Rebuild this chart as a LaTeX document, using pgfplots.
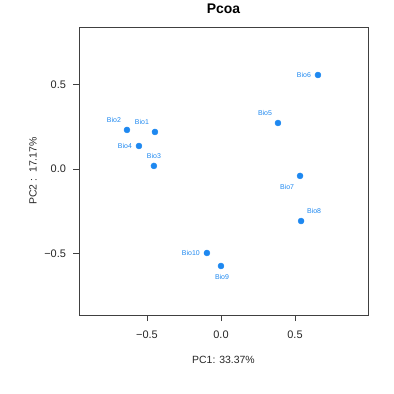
\documentclass[border=0pt]{standalone}
\usepackage{fontspec}
\setmainfont{Liberation Sans}
\usepackage{pgfplots}
\pgfplotsset{compat=1.18}
\definecolor{pblue}{HTML}{1E88F0}
\begin{document}
\begin{tikzpicture}
\path[use as bounding box] (0,0) rectangle (394bp,394bp);
\begin{axis}[
  at={(79bp,79bp)}, anchor=south west,
  width=289bp, height=288bp, scale only axis,
  xmin=-0.959, xmax=0.993, ymin=-0.864, ymax=0.840,
  xtick={-0.5,0,0.5}, ytick={-0.5,0,0.5},
  xticklabels={\char"2212 0.5,0.0,0.5}, yticklabels={\char"2212 0.5,0.0,0.5},
  tick align=outside, major tick length=6bp,
  tick pos=left,
  axis line style={draw=black!75, line width=0.7pt},
  every tick/.style={draw=black!75, line width=0.7pt},
  ticklabel style={font=\fontsize{11}{13}\selectfont, text=black!85},
  xticklabel style={yshift=-6.5bp},
  yticklabel style={xshift=-3.5bp},
  title={\textbf{Pcoa}},
  title style={at={(axis description cs:0.5,1.042)}, anchor=center, font=\fontsize{14}{16}\selectfont},
  xlabel={PC1: 33.37\%},
  xlabel style={at={(axis description cs:0.5,-0.156)}, anchor=center, font=\fontsize{10.5}{12}\selectfont, text=black!85},
  ylabel={PC2 :\ \ 17.17\%},
  ylabel style={at={(axis description cs:-0.159,0.5)}, anchor=center, font=\fontsize{10.5}{12}\selectfont, text=black!85},
  clip=false,
]
\addplot[only marks, mark=*, mark size=3bp, pblue, mark options={draw=pblue, fill=pblue}] coordinates {
(-0.446,0.219) (-0.635,0.231) (-0.453,0.018) (-0.554,0.136) (0.385,0.272)
(0.655,0.556) (0.534,-0.041) (0.541,-0.308) (0.0,-0.574) (-0.095,-0.497)};
% labels: upper-left
\addplot[only marks, mark=none, nodes near coords, point meta=explicit symbolic,
  every node near coord/.style={anchor=center, xshift=-13bp, yshift=10bp, text=pblue, font=\fontsize{7}{8}\selectfont}]
  table[meta=label]{
x y label
-0.446 0.219 Bio1
-0.635 0.231 Bio2
0.385 0.272 Bio5
};
% above
\addplot[only marks, mark=none, nodes near coords, point meta=explicit symbolic,
  every node near coord/.style={anchor=center, xshift=0bp, yshift=10bp, text=pblue, font=\fontsize{7}{8}\selectfont}]
  table[meta=label]{
x y label
-0.453 0.018 Bio3
};
% left
\addplot[only marks, mark=none, nodes near coords, point meta=explicit symbolic,
  every node near coord/.style={anchor=center, xshift=-14bp, yshift=0bp, text=pblue, font=\fontsize{7}{8}\selectfont}]
  table[meta=label]{
x y label
-0.554 0.136 Bio4
0.655 0.556 Bio6
};
\addplot[only marks, mark=none, nodes near coords, point meta=explicit symbolic,
  every node near coord/.style={anchor=center, xshift=-16bp, yshift=0bp, text=pblue, font=\fontsize{7}{8}\selectfont}]
  table[meta=label]{
x y label
-0.095 -0.497 Bio10
};
% lower-left
\addplot[only marks, mark=none, nodes near coords, point meta=explicit symbolic,
  every node near coord/.style={anchor=center, xshift=-13bp, yshift=-11bp, text=pblue, font=\fontsize{7}{8}\selectfont}]
  table[meta=label]{
x y label
0.534 -0.041 Bio7
};
% upper-right
\addplot[only marks, mark=none, nodes near coords, point meta=explicit symbolic,
  every node near coord/.style={anchor=center, xshift=13bp, yshift=10bp, text=pblue, font=\fontsize{7}{8}\selectfont}]
  table[meta=label]{
x y label
0.541 -0.308 Bio8
};
% below
\addplot[only marks, mark=none, nodes near coords, point meta=explicit symbolic,
  every node near coord/.style={anchor=center, xshift=1bp, yshift=-11bp, text=pblue, font=\fontsize{7}{8}\selectfont}]
  table[meta=label]{
x y label
0.0 -0.574 Bio9
};
\end{axis}
\end{tikzpicture}
\end{document}
